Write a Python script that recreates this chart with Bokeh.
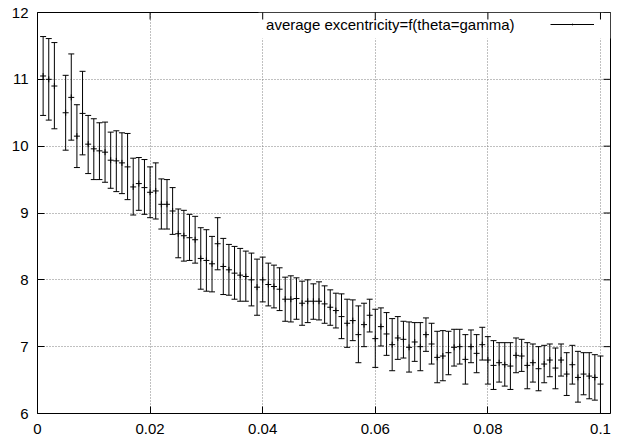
import math
from bokeh.plotting import figure
from bokeh.models import (ColumnDataSource, Range1d, FixedTicker, BoxAnnotation,
                          Label, Legend, LegendItem)
from bokeh.embed import file_html
from bokeh.resources import INLINE

# ---- data ----
x = [0.001, 0.002, 0.003, 0.005, 0.006, 0.007, 0.008, 0.009, 0.010,
     0.011, 0.012, 0.013, 0.014, 0.015, 0.016, 0.017, 0.018, 0.019, 0.020,
     0.021, 0.022, 0.023, 0.024, 0.025, 0.026, 0.027, 0.028, 0.029, 0.030,
     0.031, 0.032, 0.033, 0.034, 0.035, 0.036, 0.037, 0.038, 0.039, 0.040,
     0.041, 0.042, 0.043, 0.044, 0.045, 0.046, 0.047, 0.048, 0.049, 0.050,
     0.051, 0.052, 0.053, 0.054, 0.055, 0.056, 0.057, 0.058, 0.059, 0.060,
     0.061, 0.062, 0.063, 0.064, 0.065, 0.066, 0.067, 0.068, 0.069, 0.070,
     0.071, 0.072, 0.073, 0.074, 0.075, 0.076, 0.077, 0.078, 0.079, 0.080,
     0.081, 0.082, 0.083, 0.084, 0.085, 0.086, 0.087, 0.088, 0.089, 0.090,
     0.091, 0.092, 0.093, 0.094, 0.095, 0.096, 0.097, 0.098, 0.099, 0.100]

mean = [11.05, 11.00, 10.90, 10.50, 10.73, 10.15, 10.49, 10.03, 9.96,
        9.93, 9.91, 9.79, 9.78, 9.75, 9.69, 9.39, 9.44, 9.38, 9.31,
        9.33, 9.13, 9.13, 9.03, 8.69, 8.66, 8.63, 8.60, 8.32, 8.29,
        8.24, 8.54, 8.20, 8.15, 8.10, 8.07, 8.05, 8.00, 7.89, 8.00,
        7.93, 7.90, 7.86, 7.71, 7.71, 7.72, 7.65, 7.68, 7.68, 7.68,
        7.64, 7.59, 7.54, 7.45, 7.35, 7.39, 7.18, 7.33, 7.47, 7.12,
        7.30, 7.19, 7.03, 7.13, 7.11, 6.99, 7.07, 7.00, 7.18, 7.04,
        6.84, 6.86, 6.91, 6.99, 7.00, 6.81, 7.00, 6.90, 7.03, 6.80,
        6.72, 6.76, 6.73, 6.71, 6.87, 6.86, 6.72, 6.76, 6.67, 6.74,
        6.80, 6.68, 6.80, 6.59, 6.73, 6.54, 6.59, 6.56, 6.54, 6.44]

lower = [10.46, 10.39, 10.26, 9.94, 10.09, 9.68, 9.87, 9.59, 9.50,
         9.50, 9.46, 9.37, 9.32, 9.29, 9.20, 8.97, 9.04, 8.98, 8.93,
         8.91, 8.76, 8.76, 8.68, 8.33, 8.28, 8.29, 8.25, 7.86, 7.83,
         7.82, 8.15, 7.78, 7.77, 7.71, 7.68, 7.68, 7.61, 7.47, 7.67,
         7.61, 7.58, 7.54, 7.38, 7.37, 7.41, 7.32, 7.36, 7.41, 7.40,
         7.35, 7.32, 7.28, 7.12, 6.99, 7.09, 6.76, 7.00, 7.22, 6.69,
         7.01, 6.87, 6.64, 6.81, 6.83, 6.62, 6.78, 6.64, 6.93, 6.74,
         6.46, 6.49, 6.58, 6.71, 6.74, 6.44, 6.76, 6.61, 6.80, 6.44,
         6.36, 6.47, 6.41, 6.36, 6.61, 6.63, 6.37, 6.47, 6.34, 6.46,
         6.55, 6.37, 6.56, 6.27, 6.44, 6.17, 6.28, 6.22, 6.20, 6.00]

upper = [11.64, 11.61, 11.55, 11.06, 11.38, 10.62, 11.12, 10.46, 10.41,
         10.35, 10.36, 10.21, 10.23, 10.20, 10.19, 9.82, 9.83, 9.80, 9.69,
         9.75, 9.51, 9.50, 9.38, 9.06, 9.04, 8.98, 8.95, 8.78, 8.75,
         8.65, 8.93, 8.62, 8.53, 8.50, 8.47, 8.43, 8.40, 8.31, 8.34,
         8.25, 8.22, 8.18, 8.04, 8.06, 8.03, 7.98, 8.00, 7.94, 7.97,
         7.91, 7.85, 7.80, 7.79, 7.71, 7.70, 7.61, 7.65, 7.71, 7.56,
         7.58, 7.51, 7.42, 7.45, 7.38, 7.37, 7.36, 7.36, 7.43, 7.35,
         7.23, 7.24, 7.23, 7.26, 7.26, 7.18, 7.25, 7.18, 7.29, 7.15,
         7.09, 7.06, 7.06, 7.06, 7.13, 7.11, 7.06, 7.04, 7.00, 7.02,
         7.04, 6.98, 7.04, 6.91, 7.02, 6.93, 6.91, 6.91, 6.88, 6.86]

x_ticks = [0, 0.02, 0.04, 0.06, 0.08, 0.1]
x_tick_labels = ["0", "0.02", "0.04", "0.06", "0.08", "0.1"]
y_ticks = [6, 7, 8, 9, 10, 11, 12]
y_tick_labels = ["6", "7", "8", "9", "10", "11", "12"]
series_label = "average excentricity=f(theta=gamma)"

X_MIN, X_MAX = 0, 0.10178
Y_MIN, Y_MAX = 6, 12
FONT = "Liberation Sans"

src = ColumnDataSource(dict(x=x, mean=mean, lower=lower, upper=upper))

p = figure(width=623, height=441, output_backend="svg", toolbar_location=None,
           x_range=Range1d(X_MIN, X_MAX), y_range=Range1d(Y_MIN, Y_MAX),
           min_border_left=37, min_border_right=13, min_border_top=12,
           min_border_bottom=28)

p.background_fill_color = "white"
p.border_fill_color = "white"
p.outline_line_color = "black"
p.outline_line_width = 1
p.outline_line_alpha = 1

xt = FixedTicker(ticks=x_ticks)
yt = FixedTicker(ticks=y_ticks)
p.xaxis.ticker = xt
p.yaxis.ticker = yt
p.xaxis.major_label_overrides = dict(zip(x_ticks, x_tick_labels))
p.yaxis.major_label_overrides = dict(zip(y_ticks, y_tick_labels))

for ax in (p.xaxis[0], p.yaxis[0]):
    ax.axis_line_color = None
    ax.major_tick_in = 7
    ax.major_tick_out = 0
    ax.major_tick_line_color = "black"
    ax.minor_tick_line_color = None
    ax.major_label_text_font = FONT
    ax.major_label_text_font_size = "15px"
    ax.major_label_text_color = "black"
p.xaxis.major_label_standoff = 10
p.yaxis.major_label_standoff = 9

p.grid.grid_line_color = "#808080"
p.grid.grid_line_dash = "1 2"
p.grid.grid_line_width = 1
p.xgrid.ticker = xt
p.ygrid.ticker = yt

# blank area behind the key (covers the grid, drawn below the data)
p.add_layout(BoxAnnotation(left=221, right=573, bottom=375, top=401,
                           left_units="screen", right_units="screen",
                           bottom_units="screen", top_units="screen",
                           fill_color="white", fill_alpha=1, line_color=None,
                           level="underlay"))

# mirrored inward ticks on the top and right borders (clipped to the frame)
p.scatter(x=x_ticks, y=[Y_MAX] * len(x_ticks), marker="dash", angle=math.pi / 2,
          size=14, line_color="black", line_width=1)
p.scatter(x=[X_MAX] * len(y_ticks), y=y_ticks, marker="dash",
          size=14, line_color="black", line_width=1)

bars = p.segment(x0="x", y0="lower", x1="x", y1="upper", source=src,
                 line_color="black", line_width=1)
p.scatter(x="x", y="upper", marker="dash", size=6, source=src,
          line_color="black", line_width=1)
p.scatter(x="x", y="lower", marker="dash", size=6, source=src,
          line_color="black", line_width=1)
pts = p.scatter(x="x", y="mean", marker="cross", size=6, source=src,
                line_color="black", line_width=1)

legend = Legend(items=[LegendItem(label=" ", renderers=[bars, pts])],
                location="top_right", margin=10, padding=0, spacing=0,
                label_standoff=0, label_width=6, label_height=4,
                glyph_width=44, glyph_height=4, label_text_font_size="1px",
                border_line_color=None, background_fill_alpha=0)
p.add_layout(legend)

p.add_layout(Label(x=477, y=389, x_units="screen", y_units="screen",
                   text=series_label, text_align="right",
                   text_baseline="middle", text_font=FONT,
                   text_font_size="15px", text_color="black"))

open("out.html", "w").write(file_html(p, INLINE))
